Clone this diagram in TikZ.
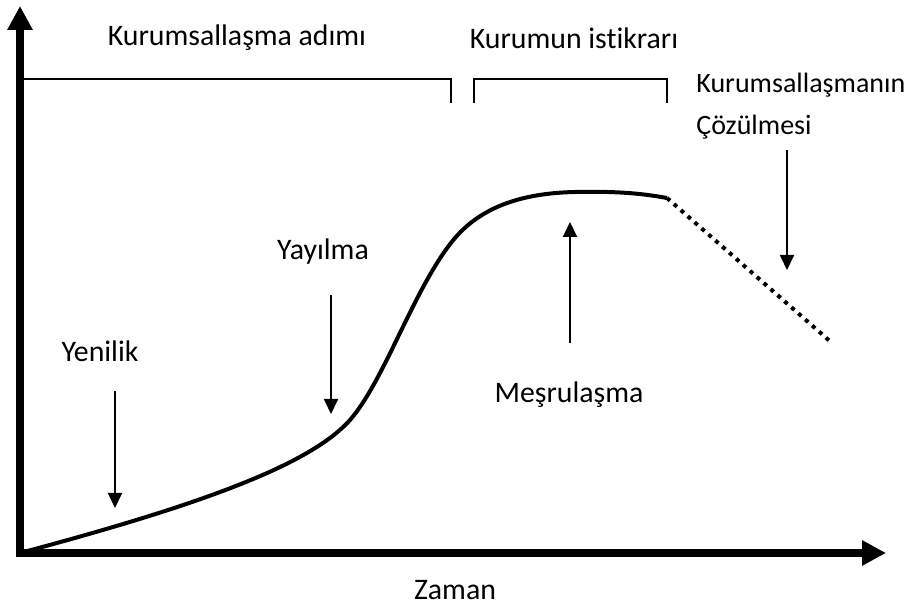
\documentclass[tikz,border=0pt]{standalone}
\usepackage{fontspec}
\setmainfont{Carlito}[Ligatures=NoCommon]
\usetikzlibrary{arrows.meta}

\begin{document}
\begin{tikzpicture}[x=0.5pt, y=-0.5pt,
    >={Triangle[length=7.5pt, width=7pt]},
    axis/.style={line width=4pt, -{Triangle[length=12pt, width=12pt]}},
    marker/.style={line width=1pt, ->},
    bracket/.style={line width=1.2pt},
    label/.style={font=\fontsize{14.9}{21}\selectfont, inner sep=0pt}]
  \useasboundingbox (0,0) rectangle (911,614);
  % axes
  \coordinate (O) at (20,553);
  \coordinate (ytop) at (20,6);
  \coordinate (xend) at (886,553);
  \draw[axis] ([yshift=-2pt]O) -- (ytop);
  \draw[axis] ([xshift=-2pt]O) -- (xend);
  \node[label] (zaman) at (455,590) {Zaman};
  % brackets on top
  \draw[bracket] (20,79) -- (451,79) -- (451,103);
  \draw[bracket] (474,103) -- (474,79) -- (667,79) -- (667,103);
  \node[label] (adim) at (237,38) {Kurumsallaşma adımı};
  \node[label] (istikrar) at (574,38) {Kurumun istikrarı};
  \node[label, font=\fontsize{14}{21}\selectfont, align=left, anchor=west]
    (cozulme) at (696,106) {Kurumsallaşmanın\\Çözülmesi};
  % the curve
  \coordinate (peakend) at (667,198);
  \coordinate (tail) at (832,343);
  \draw[line width=2pt, line join=round]
    (O) .. controls (200,505) and (310,465) .. (350,420)
        .. controls (385,380) and (415,285) .. (455,238)
        .. controls (485,203) and (530,193) .. (575,192)
        .. controls (620,191) and (645,194) .. (peakend);
  \draw[line width=2pt, dash pattern=on 2pt off 2.6pt] (peakend) -- (tail);
  % stage labels and arrows
  \node[label] (yenilik) at (100,351) {Yenilik};
  \node[label] (yayilma) at (323,252) {Yayılma};
  \node[label] (mesru) at (569,395) {Meşrulaşma};
  \coordinate (a1) at (115,391); \coordinate (b1) at (115,508);
  \coordinate (a2) at (331,295); \coordinate (b2) at (331,414);
  \coordinate (a3) at (570,343); \coordinate (b3) at (570,222);
  \coordinate (a4) at (787,150); \coordinate (b4) at (787,270);
  \draw[marker] (a1) -- (b1);
  \draw[marker] (a2) -- (b2);
  \draw[marker] (a3) -- (b3);
  \draw[marker] (a4) -- (b4);
\end{tikzpicture}
\end{document}
